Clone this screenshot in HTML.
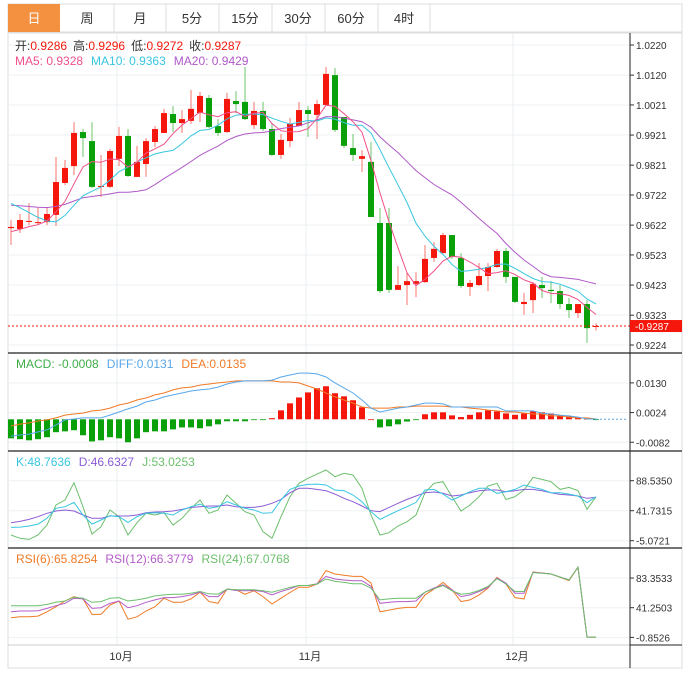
<!DOCTYPE html>
<html><head><meta charset="utf-8">
<style>
html,body{margin:0;padding:0;background:#fff;}
svg{display:block;font-family:"Liberation Sans","Noto Sans CJK SC",sans-serif;}
</style></head>
<body>
<svg id="chart" width="689" height="676" viewBox="0 0 689 676" xmlns="http://www.w3.org/2000/svg">
  <rect x="0" y="0" width="689" height="676" fill="#fff"/>
  <g>
    <rect x="8" y="4" width="674" height="28" fill="#fff" stroke="#ddd"/>
    <rect x="8" y="4" width="52" height="28" fill="#f39140"/>
    <text x="34" y="23" text-anchor="middle" font-size="13" fill="#fff">日</text>
    <line x1="114" y1="4" x2="114" y2="32" stroke="#ddd"/>
    <line x1="166" y1="4" x2="166" y2="32" stroke="#ddd"/>
    <line x1="219" y1="4" x2="219" y2="32" stroke="#ddd"/>
    <line x1="272" y1="4" x2="272" y2="32" stroke="#ddd"/>
    <line x1="325" y1="4" x2="325" y2="32" stroke="#ddd"/>
    <line x1="378" y1="4" x2="378" y2="32" stroke="#ddd"/>
    <line x1="430" y1="4" x2="430" y2="32" stroke="#ddd"/>
    <text x="87" y="23" text-anchor="middle" font-size="13" fill="#333">周</text>
    <text x="140" y="23" text-anchor="middle" font-size="13" fill="#333">月</text>
    <text x="192" y="23" text-anchor="middle" font-size="13" fill="#333">5分</text>
    <text x="245" y="23" text-anchor="middle" font-size="13" fill="#333">15分</text>
    <text x="298" y="23" text-anchor="middle" font-size="13" fill="#333">30分</text>
    <text x="351" y="23" text-anchor="middle" font-size="13" fill="#333">60分</text>
    <text x="404" y="23" text-anchor="middle" font-size="13" fill="#333">4时</text>
  </g>
  <rect x="8" y="33" width="674" height="635" fill="none" stroke="#ddd"/>
  <g id="grid"></g>
  <g id="marks"></g>
  <g id="axes"></g>
  <g font-size="12">
    <text x="15" y="50"><tspan fill="#333">开:</tspan><tspan fill="#f5170b">0.9286</tspan><tspan fill="#333" dx="6">高:</tspan><tspan fill="#f5170b">0.9296</tspan><tspan fill="#333" dx="6">低:</tspan><tspan fill="#f5170b">0.9272</tspan><tspan fill="#333" dx="6">收:</tspan><tspan fill="#f5170b">0.9287</tspan></text>
    <text x="15" y="65"><tspan fill="#f0508a">MA5: 0.9328</tspan><tspan fill="#38c6e0" dx="8">MA10: 0.9363</tspan><tspan fill="#b059c8" dx="8">MA20: 0.9429</tspan></text>
    <text x="16" y="368"><tspan fill="#3fae49">MACD: -0.0008</tspan><tspan fill="#5aa7e8" dx="8">DIFF:0.0131</tspan><tspan fill="#f07a26" dx="8">DEA:0.0135</tspan></text>
    <text x="16" y="466"><tspan fill="#37c6e0">K:48.7636</tspan><tspan fill="#8b5cd6" dx="8">D:46.6327</tspan><tspan fill="#6cbf6c" dx="8">J:53.0253</tspan></text>
    <text x="16" y="563"><tspan fill="#f07a26">RSI(6):65.8254</tspan><tspan fill="#b45cc8" dx="8">RSI(12):66.3779</tspan><tspan fill="#6cbf6c" dx="8">RSI(24):67.0768</tspan></text>
  </g>
</svg>
<script>
const opens=[0.9612,0.9609,0.9636,0.9632,0.9632,0.9656,0.9762,0.9818,0.9931,0.9901,0.9752,0.9749,0.9842,0.9918,0.9782,0.9825,0.9898,0.9928,0.9991,0.9961,0.9968,0.9994,1.0044,0.9951,0.9931,1.0034,1.0031,0.9954,1.0001,0.9941,0.9855,0.9901,0.9951,1.0004,0.9988,1.0021,1.0120,0.9981,0.9878,0.9842,0.9832,0.9629,0.9629,0.9407,0.9423,0.9427,0.9433,0.9513,0.9529,0.9589,0.9513,0.9417,0.9423,0.9453,0.9483,0.9536,0.9450,0.9360,0.9373,0.9423,0.9407,0.9403,0.9360,0.9330,0.9360,0.9286];
const highs=[0.9639,0.9659,0.9695,0.9679,0.9682,0.9848,0.9838,0.9964,0.9941,0.9964,0.9855,0.9875,0.9948,0.9941,0.9885,0.9911,0.9951,1.0008,1.0017,1.0004,1.0071,1.0064,1.0054,0.9974,1.0061,1.0067,1.0147,1.0031,1.0031,0.9961,0.9925,0.9978,1.0031,1.0017,1.0037,1.0147,1.0144,0.9981,0.9925,0.9871,0.9898,0.9679,0.9679,0.9486,0.9466,0.9466,0.9556,0.9566,0.9596,0.9589,0.9529,0.9440,0.9496,0.9496,0.9543,0.9546,0.9450,0.9397,0.9433,0.9450,0.9436,0.9423,0.9380,0.9360,0.9373,0.9296];
const lows=[0.9556,0.9596,0.9622,0.9622,0.9622,0.9619,0.9755,0.9788,0.9848,0.9745,0.9715,0.9745,0.9818,0.9782,0.9782,0.9782,0.9881,0.9928,0.9931,0.9928,0.9958,0.9964,0.9944,0.9918,0.9928,0.9994,0.9971,0.9941,0.9934,0.9851,0.9842,0.9881,0.9951,0.9915,0.9908,1.0021,0.9931,0.9878,0.9835,0.9798,0.9649,0.9397,0.9397,0.9407,0.9357,0.9383,0.9430,0.9500,0.9529,0.9510,0.9413,0.9387,0.9420,0.9403,0.9480,0.9430,0.9363,0.9324,0.9330,0.9380,0.9363,0.9344,0.9314,0.9314,0.9231,0.9272];
const closes=[0.9616,0.9639,0.9636,0.9632,0.9659,0.9765,0.9812,0.9928,0.9911,0.9749,0.9752,0.9868,0.9918,0.9785,0.9832,0.9901,0.9941,0.9994,0.9961,0.9974,1.0008,1.0051,0.9948,0.9928,1.0041,1.0024,0.9974,1.0001,0.9941,0.9855,0.9905,0.9958,1.0004,0.9991,1.0024,1.0124,0.9938,0.9885,0.9855,0.9851,0.9649,0.9403,0.9407,0.9423,0.9436,0.9436,0.9510,0.9543,0.9589,0.9516,0.9420,0.9430,0.9453,0.9483,0.9536,0.9450,0.9367,0.9367,0.9427,0.9413,0.9403,0.9360,0.9340,0.9360,0.9280,0.9287];
const prevCloses=[0.9670,0.9690,0.9675,0.9685,0.9690,0.9680,0.9700,0.9690,0.9670,0.9670,0.9780,0.9800,0.9790,0.9780,0.9790,0.9600,0.9590,0.9600,0.9594];
const priceTicks=[1.0220,1.0120,1.0021,0.9921,0.9821,0.9722,0.9622,0.9523,0.9423,0.9323,0.9224];
const macdHist=[-0.0068,-0.0071,-0.0075,-0.0071,-0.0064,-0.0046,-0.0043,-0.0039,-0.0057,-0.0079,-0.0075,-0.0064,-0.0068,-0.0082,-0.0068,-0.0046,-0.0043,-0.0043,-0.0036,-0.0029,-0.0029,-0.0032,-0.0025,-0.0018,-0.0007,-0.0007,-0.0007,-0.0002,-0.0001,0.0004,0.0032,0.0057,0.0078,0.0096,0.0111,0.0118,0.0093,0.0082,0.0068,0.0043,0.0000,-0.0029,-0.0025,-0.0018,-0.0008,-0.0001,0.0018,0.0025,0.0025,0.0014,0.0008,0.0016,0.0025,0.0032,0.0028,0.0021,0.0016,0.0021,0.0028,0.0025,0.0021,0.0014,0.0011,0.0007,0.0002,-0.0001];
const diffVals=[-0.0060,-0.0056,-0.0053,-0.0045,-0.0038,-0.0020,-0.0002,0.0001,0.0005,0.0005,0.0005,0.0015,0.0026,0.0037,0.0047,0.0062,0.0069,0.0080,0.0087,0.0094,0.0101,0.0105,0.0108,0.0115,0.0126,0.0133,0.0137,0.0137,0.0137,0.0140,0.0151,0.0158,0.0165,0.0165,0.0162,0.0151,0.0130,0.0112,0.0094,0.0069,0.0040,0.0026,0.0033,0.0040,0.0044,0.0051,0.0058,0.0058,0.0055,0.0044,0.0044,0.0044,0.0044,0.0044,0.0044,0.0030,0.0030,0.0030,0.0030,0.0022,0.0019,0.0015,0.0012,0.0008,0.0001,0.0001];
const deaVals=[-0.0024,-0.0017,-0.0013,-0.0006,-0.0002,0.0005,0.0015,0.0019,0.0022,0.0030,0.0033,0.0040,0.0051,0.0058,0.0069,0.0076,0.0087,0.0094,0.0105,0.0112,0.0115,0.0122,0.0126,0.0130,0.0133,0.0137,0.0137,0.0137,0.0137,0.0137,0.0133,0.0133,0.0130,0.0119,0.0108,0.0094,0.0080,0.0069,0.0058,0.0044,0.0040,0.0040,0.0040,0.0044,0.0044,0.0047,0.0047,0.0047,0.0047,0.0044,0.0044,0.0040,0.0037,0.0033,0.0030,0.0026,0.0026,0.0022,0.0019,0.0019,0.0012,0.0012,0.0008,0.0005,0.0005,0.0001];
const macdTicks=[0.0130,0.0024,-0.0082];
const kVals=[15.7,16.2,17.8,20.9,29.8,45.4,48.0,54.7,35.0,20.9,27.2,34.0,32.4,23.5,32.4,37.6,38.6,37.6,35.0,42.8,48.0,52.1,45.4,48.0,55.8,50.6,45.4,42.8,37.6,38.6,58.4,75.0,80.2,82.8,83.3,81.8,74.0,72.9,66.2,55.8,40.2,28.2,35.0,41.7,48.0,54.7,74.0,75.0,67.7,58.4,64.6,71.4,76.6,76.6,68.8,71.4,75.0,81.8,78.1,75.0,69.8,69.8,67.7,64.6,54.2,63.6];
const dVals=[23.0,25.1,28.2,32.4,37.6,41.2,42.8,41.2,35.0,29.8,29.8,33.4,33.4,33.4,35.0,38.6,39.7,40.2,41.2,43.8,46.9,48.0,49.0,49.0,50.6,48.0,46.9,46.9,49.0,53.2,59.4,69.8,76.6,76.6,75.0,72.9,67.7,61.0,55.8,49.0,41.7,40.2,46.9,53.2,59.4,64.6,69.8,70.9,68.8,64.6,66.2,69.8,72.9,74.0,74.0,71.4,72.9,75.0,75.0,72.9,69.8,67.2,66.2,64.6,61.0,62.5];
const jVals=[3.8,-1.4,-3.0,3.8,19.4,50.6,58.4,85.4,48.0,5.3,16.8,42.8,32.4,3.8,23.0,37.6,35.0,38.6,19.4,29.8,45.4,58.4,37.6,42.8,66.2,53.2,40.2,35.0,9.0,-1.4,32.4,63.6,84.4,92.2,98.9,105.2,94.8,100.0,97.4,76.6,35.0,3.8,7.4,17.8,24.6,35.0,69.8,84.4,87.0,63.6,41.2,50.6,63.6,80.2,84.4,59.4,63.6,74.0,93.7,90.6,87.0,75.0,78.1,72.9,43.8,63.6];
const kdjTicks=[88.5350,41.7315,-5.0721];
const rsi6=[26.9,28.3,28.3,29.3,35.5,42.7,50.8,57.0,53.7,31.7,31.7,45.1,50.8,25.0,28.3,36.5,42.7,54.7,48.9,48.9,53.7,63.3,49.9,47.5,67.6,66.6,60.4,65.2,57.0,46.5,54.7,62.8,70.4,70.0,74.7,93.9,89.1,87.2,85.7,85.7,76.2,35.5,37.9,40.3,41.7,41.7,59.4,67.6,77.1,66.6,49.9,52.3,59.4,69.0,84.3,74.7,55.6,53.7,92.0,90.5,89.1,84.3,79.5,98.7,-0.4,-0.4];
const rsi12=[35.5,36.5,36.5,37.0,40.3,44.1,47.5,54.7,53.7,40.3,41.3,47.5,50.8,41.3,44.1,48.9,52.3,55.6,55.6,57.0,59.4,63.3,57.0,57.0,67.6,65.7,65.2,65.7,64.2,59.4,64.2,68.0,72.8,72.8,75.2,85.7,81.9,80.5,79.5,79.5,71.4,47.5,48.9,49.9,49.9,50.8,63.3,69.0,73.8,66.6,57.0,59.4,64.2,70.0,83.4,76.2,61.8,61.8,91.5,90.5,89.1,84.8,80.5,98.7,-0.4,-0.4];
const rsi24=[44.1,44.1,44.1,44.1,46.0,48.9,50.8,56.1,54.7,48.9,49.9,54.7,55.6,50.8,52.3,54.7,58.0,59.4,60.4,60.4,61.8,64.2,60.9,60.4,67.6,66.6,66.6,66.6,65.2,63.3,66.6,70.0,72.8,72.8,74.7,81.9,78.6,77.1,75.2,75.2,69.0,52.3,53.7,54.7,54.7,54.7,63.3,68.0,72.8,65.2,60.4,61.8,65.7,71.4,82.4,74.7,64.2,64.2,91.0,90.0,89.1,84.8,80.5,98.7,-0.4,-0.4];
const rsiTicks=[83.3533,41.2503,-0.8526];
const monthLabels=['10月','11月','12月'];
const monthIndex=[12,33,56];

const NS='http://www.w3.org/2000/svg';
function mk(tag,attrs,parent){const e=document.createElementNS(NS,tag);for(const k in attrs)e.setAttribute(k,attrs[k]);parent.appendChild(e);return e;}
const grid=document.getElementById('grid'),marks=document.getElementById('marks'),axes=document.getElementById('axes');
const xOf=i=>11+9*i;
const yPrice=p=>45+(1.0220-p)/0.0996*300;
const yMacd=v=>419.3-v/0.000357;
const yKdj=v=>510.7-(v-41.7315)*0.641;
const yRsi=v=>607.7-(v-41.2503)*0.705;
const AX=630;

monthIndex.forEach((mi,k)=>{
  const x=xOf(mi)-2;
  const gl=mk('line',{x1:x,y1:33,x2:x,y2:645,stroke:'#e8eef1','stroke-width':1},grid);
  
  
  const t=mk('text',{x:x+4,y:660,'text-anchor':'middle','font-size':11,fill:'#333'},axes);
  t.textContent=monthLabels[k];
  
  
});

function ticks(vals,yf,fmt,name){
  vals.forEach(v=>{
    const y=yf(v);
    const gl=mk('line',{x1:8,y1:y,x2:AX,y2:y,stroke:'#edf1f3','stroke-width':1},grid);
    
    
    mk('line',{x1:AX,y1:y,x2:AX+4,y2:y,stroke:'#333'},axes);
    const t=mk('text',{x:AX+6,y:y+4,'font-size':10,fill:'#333'},axes);
    t.textContent=fmt(v);
    
    
  });
}
ticks(priceTicks,yPrice,v=>v.toFixed(4),'price');
ticks(macdTicks,yMacd,v=>v.toFixed(4),'macd');
ticks(kdjTicks,yKdj,v=>v.toFixed(4),'kdj');
ticks(rsiTicks,yRsi,v=>v.toFixed(4),'rsi');

[353,451,548].forEach(y=>{const l=mk('line',{x1:8,y1:y,x2:682,y2:y,stroke:'#222','stroke-width':1.2},axes);});
mk('line',{x1:8,y1:645,x2:AX,y2:645,stroke:'#ccc'},axes);
mk('line',{x1:AX,y1:645,x2:682,y2:645,stroke:'#222'},axes);
const ax=mk('line',{x1:AX,y1:33,x2:AX,y2:668,stroke:'#222'},axes);



const UP='#f5170b',DN='#0aa00a';
for(let i=0;i<closes.length;i++){
  const x=xOf(i),up=closes[i]>=opens[i],c=up?UP:DN;
  const w=mk('line',{x1:x,y1:yPrice(highs[i]),x2:x,y2:yPrice(lows[i]),stroke:c,'stroke-opacity':0.6,'stroke-width':1},marks);
  
  
  const t=yPrice(Math.max(opens[i],closes[i])),b=yPrice(Math.min(opens[i],closes[i]));
  const r=mk('rect',{x:x-3,y:t,width:6,height:Math.max(1,b-t),fill:c},marks);
  
  
}
const allC=prevCloses.concat(closes);
function ma(n){const out=[];for(let i=0;i<closes.length;i++){const j=i+prevCloses.length;let s=0;for(let k=j-n+1;k<=j;k++)s+=allC[k];out.push(s/n);}return out;}
function poly(vals,yf,color,name,w){
  const pts=vals.map((v,i)=>xOf(i)+','+yf(v).toFixed(1)).join(' ');
  const p=mk('polyline',{points:pts,fill:'none',stroke:color,'stroke-width':w||1},marks);
  
  
}
poly(ma(20),yPrice,'#b059c8','ma20-line');
poly(ma(10),yPrice,'#38c6e0','ma10-line');
poly(ma(5),yPrice,'#f0508a','ma5-line');

const lastY=yPrice(closes[closes.length-1]);
const cl=mk('line',{x1:8,y1:lastY,x2:AX,y2:lastY,stroke:'#f5170b','stroke-dasharray':'2,2'},marks);


const lb=mk('rect',{x:AX,y:lastY-6,width:52,height:12,fill:'#f5170b'},axes);


const lt=mk('text',{x:AX+5,y:lastY+4,'font-size':10,fill:'#fff'},axes);
lt.textContent='-'+closes[closes.length-1].toFixed(4);



const z=yMacd(0);
for(let i=0;i<macdHist.length;i++){
  const v=macdHist[i],y=yMacd(v);
  const r=mk('rect',{x:xOf(i)-3,y:Math.min(y,z),width:6,height:Math.max(0.8,Math.abs(y-z)),fill:v>=0?UP:DN},marks);
  
  
}
const zl=mk('line',{x1:xOf(macdHist.length-1),y1:z,x2:AX-2,y2:z,stroke:'#5aa7e8','stroke-dasharray':'2,2'},marks);


poly(deaVals,yMacd,'#f07a26','dea-line');
poly(diffVals,yMacd,'#5aa7e8','diff-line');
poly(jVals,yKdj,'#6cbf6c','kdj-j-line');
poly(dVals,yKdj,'#8b5cd6','kdj-d-line');
poly(kVals,yKdj,'#37c6e0','kdj-k-line');
poly(rsi6,yRsi,'#f07a26','rsi6-line');
poly(rsi12,yRsi,'#b45cc8','rsi12-line');
poly(rsi24,yRsi,'#6cbf6c','rsi24-line');
</script>
</body></html>
